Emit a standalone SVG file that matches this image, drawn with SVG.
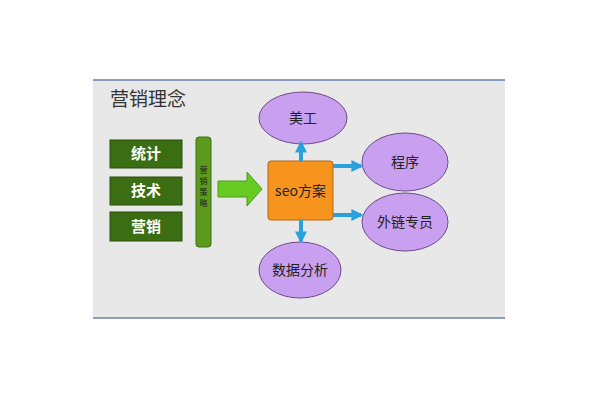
<svg xmlns="http://www.w3.org/2000/svg" width="600" height="400" viewBox="0 0 600 400">
<defs>
<style>
text{font-family:"Noto Sans CJK SC","Liberation Sans",sans-serif}
.g{fill:#3b6e12;stroke:#2a4d0c;stroke-width:1}
.gt{fill:#fff;font-size:15px;font-weight:bold;text-anchor:middle}
.e{fill:#c9a0f0;stroke:#6a4a8a;stroke-width:1}
.et{fill:#222;font-size:14px;text-anchor:middle}
.b{stroke:#2aa0dc;stroke-width:4;fill:none}
</style>
<marker id="ah" viewBox="0 0 10 10" refX="8" refY="5" markerWidth="3" markerHeight="3" orient="auto"><path d="M0,0 L10,5 L0,10 z" fill="#2aa0dc"/></marker>
</defs>
<rect width="600" height="400" fill="#fff"/>
<rect x="93" y="80" width="412" height="238" fill="#e8e8e8"/>
<line x1="93" y1="80" x2="505" y2="80" stroke="#6a7fb0" stroke-width="1.5"/>
<line x1="93" y1="318" x2="505" y2="318" stroke="#6a7fb0" stroke-width="1.5"/>
<text x="110" y="106" font-size="19" fill="#333">营销理念</text>
<g id="n-tongji"><rect class="g" x="110" y="140" width="72" height="28"/><text class="gt" x="146" y="159">统计</text></g>
<g id="n-jishu"><rect class="g" x="110" y="177" width="72" height="28"/><text class="gt" x="146" y="196">技术</text></g>
<g id="n-yingxiao"><rect class="g" x="110" y="212" width="72" height="29"/><text class="gt" x="146" y="232">营销</text></g>
<g id="n-celue"><rect x="196" y="137" width="15" height="110" rx="3" fill="#5c9a1e" stroke="#3b6e12"/>
<text x="203.5" y="173" font-size="8" fill="#222" text-anchor="middle"><tspan x="203.5" dy="0">营</tspan><tspan x="203.5" dy="11">销</tspan><tspan x="203.5" dy="11">策</tspan><tspan x="203.5" dy="11">略</tspan></text></g>
<g id="n-seo"><rect x="268" y="161" width="65" height="59" rx="3" fill="#f7941d" stroke="#b0661a"/><text x="300.5" y="196" font-size="14" fill="#222" text-anchor="middle">seo方案</text></g>
<g id="n-meigong"><ellipse class="e" cx="303" cy="118" rx="44" ry="26"/><text class="et" x="303" y="123">美工</text></g>
<g id="n-chengxu"><ellipse class="e" cx="405" cy="162" rx="43" ry="29"/><text class="et" x="405" y="167">程序</text></g>
<g id="n-wailian"><ellipse class="e" cx="405" cy="222" rx="43" ry="29"/><text class="et" x="405" y="227">外链专员</text></g>
<g id="n-shuju"><ellipse class="e" cx="300" cy="270" rx="41" ry="28"/><text class="et" x="300" y="275">数据分析</text></g>
<g id="connectors">
<path d="M218,181 H247 V172 L262,189 L247,206 V197 H218 Z" fill="#66cc22" stroke="#4a9a18"/>
<line class="b" x1="301" y1="161" x2="301" y2="143" marker-end="url(#ah)"/>
<line class="b" x1="333" y1="166" x2="361" y2="166" marker-end="url(#ah)"/>
<line class="b" x1="333" y1="215" x2="361" y2="215" marker-end="url(#ah)"/>
<line class="b" x1="301" y1="220" x2="301" y2="241" marker-end="url(#ah)"/>
</g>
</svg>
